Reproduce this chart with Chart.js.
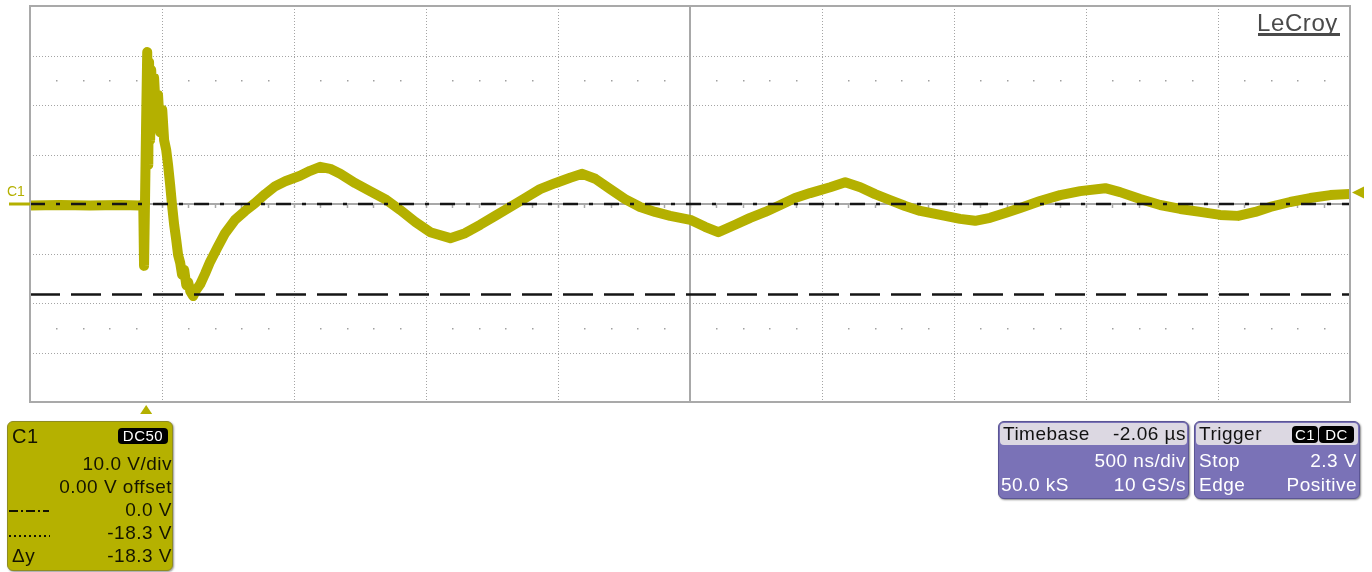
<!DOCTYPE html>
<html>
<head>
<meta charset="utf-8">
<script src="https://cdn.jsdelivr.net/npm/chart.js@4.4.1/dist/chart.umd.min.js"></script>
<style>
  html,body{margin:0;padding:0;background:#fff;}
  #wrap{position:relative;width:1372px;height:572px;overflow:hidden;font-family:"Liberation Sans",Arial,sans-serif;}
  #c{position:absolute;left:0;top:0;}
  .abs{position:absolute;white-space:nowrap;}
  .panel{position:absolute;box-sizing:border-box;border-radius:6px;}
  .t19{font-size:19px;line-height:22px;letter-spacing:0.5px;}
  .badge{position:absolute;background:#000;color:#fff;border-radius:4px;font-size:15px;line-height:16px;text-align:center;letter-spacing:0.5px;}
</style>
</head>
<body>
<div id="wrap">
  <canvas id="c" width="1372" height="572"></canvas>

  <!-- LeCroy logo -->
  <div class="abs" style="left:1257px;top:10px;font-size:24px;line-height:26px;color:#4a4a4a;letter-spacing:0.6px;">LeCroy</div>
  <div class="abs" style="left:1258px;top:33px;width:82px;height:3px;background:#4a4a4a;"></div>

  <!-- channel label -->
  <div class="abs" style="left:7px;top:184px;font-size:14px;line-height:15px;color:#b4b000;">C1</div>

  <!-- C1 panel -->
  <div class="panel" style="left:7px;top:421px;width:166px;height:150px;background:#b5b100;border:1px solid #8f8c20;box-shadow:1px 1px 2px #999;"></div>
  <div class="abs t19" style="left:12px;top:425px;color:#141400;font-size:20px;">C1</div>
  <div class="badge" style="left:118px;top:428px;width:50px;height:16px;">DC50</div>
  <div class="abs t19" style="right:1200px;top:453px;color:#141400;">10.0 V/div</div>
  <div class="abs t19" style="right:1200px;top:476px;color:#141400;">0.00 V offset</div>
  <div class="abs" style="left:9px;top:510px;width:40px;height:2px;background:repeating-linear-gradient(90deg,#141400 0 9px,transparent 9px 12px,#141400 12px 14px,transparent 14px 17px);"></div>
  <div class="abs t19" style="right:1200px;top:499px;color:#141400;">0.0 V</div>
  <div class="abs" style="left:9px;top:535px;width:41px;height:2px;background:repeating-linear-gradient(90deg,#141400 0 2px,transparent 2px 5px);"></div>
  <div class="abs t19" style="right:1200px;top:522px;color:#141400;">-18.3 V</div>
  <div class="abs t19" style="left:12px;top:545px;color:#141400;">Δy</div>
  <div class="abs t19" style="right:1200px;top:545px;color:#141400;">-18.3 V</div>

  <!-- Timebase panel -->
  <div class="panel" style="left:998px;top:421px;width:191px;height:78px;background:#7a72b7;border:1px solid #5b5594;box-shadow:1px 1px 2px #888;"></div>
  <div class="panel" style="left:1000px;top:423px;width:187px;height:22px;background:#dcd8e2;border-radius:4px;"></div>
  <div class="abs t19" style="left:1003px;top:423px;color:#111;">Timebase</div>
  <div class="abs t19" style="right:186px;top:423px;color:#111;">-2.06 µs</div>
  <div class="abs t19" style="right:186px;top:450px;color:#fff;">500 ns/div</div>
  <div class="abs t19" style="left:1001px;top:474px;color:#fff;">50.0 kS</div>
  <div class="abs t19" style="right:186px;top:474px;color:#fff;">10 GS/s</div>

  <!-- Trigger panel -->
  <div class="panel" style="left:1194px;top:421px;width:166px;height:78px;background:#7a72b7;border:1px solid #5b5594;box-shadow:1px 1px 2px #888;"></div>
  <div class="panel" style="left:1196px;top:423px;width:162px;height:22px;background:#dcd8e2;border-radius:4px;"></div>
  <div class="abs t19" style="left:1199px;top:423px;color:#111;">Trigger</div>
  <div class="badge" style="left:1292px;top:426px;width:26px;height:17px;line-height:17px;">C1</div>
  <div class="badge" style="left:1319px;top:426px;width:35px;height:17px;line-height:17px;">DC</div>
  <div class="abs t19" style="left:1199px;top:450px;color:#fff;">Stop</div>
  <div class="abs t19" style="right:15px;top:450px;color:#fff;">2.3 V</div>
  <div class="abs t19" style="left:1199px;top:474px;color:#fff;">Edge</div>
  <div class="abs t19" style="right:15px;top:474px;color:#fff;">Positive</div>
</div>

<script>
// ---- data (time in ns relative to trigger, voltage in V) ----
const timeNs = [
  -440, -326, -212, -98, -23, -11, -8, -4, 0, 4, 8, 11, 15, 19, 27, 30, 38, 45, 53, 61, 68, 76, 83, 91, 98,
  106, 114, 121, 129, 136, 144, 152, 159, 167, 178, 189, 205, 223, 242, 269, 299, 337, 375, 413, 451, 489,
  527, 583, 621, 659, 697, 735, 792, 848, 905, 962, 1019, 1076, 1152, 1208, 1265, 1322, 1379, 1436, 1492,
  1549, 1606, 1652, 1701, 1758, 1814, 1871, 1928, 1985, 2061, 2117, 2167, 2231, 2288, 2345, 2402, 2458,
  2515, 2591, 2648, 2705, 2761, 2818, 2875, 2932, 3008, 3083, 3140, 3197, 3254, 3311, 3386, 3462, 3538,
  3633, 3689, 3765, 3841, 3917, 3992, 4068, 4136, 4201, 4258, 4333, 4409, 4485, 4560
];
const voltsC1 = [
  -0.3, -0.2, -0.3, -0.2, -0.3, 0.0, -12.5, 1.8, 17.0, 30.7, 7.9, 28.7, 12.9, 27.1, 18.0, 25.5, 17.4, 22.0, 14.5, 19.0, 12.9, 10.9, 7.9, 3.8, -0.2,
  -4.2, -7.3, -10.3, -11.9, -14.3, -13.3, -16.4, -15.8, -17.6, -18.6, -17.4, -16.2, -14.1, -11.7, -8.9, -5.9, -3.2, -1.4, 0.2, 2.0, 3.6,
  4.6, 5.7, 6.7, 7.5, 7.1, 6.1, 4.2, 2.6, 1.0, -1.2, -3.6, -5.7, -6.9, -5.9, -4.2, -2.4, -0.6, 1.2, 3.0,
  4.2, 5.3, 6.1, 5.1, 3.0, 1.0, -0.6, -1.6, -2.4, -3.2, -4.6, -5.7, -4.2, -2.8, -1.6, -0.2, 1.2,
  2.2, 3.4, 4.4, 3.4, 2.0, 0.8, -0.4, -1.4, -2.2, -3.0, -3.4, -2.8, -1.8, -0.8, 0.6, 1.8, 2.6,
  3.2, 2.4, 1.0, -0.2, -1.0, -1.6, -2.2, -2.4, -1.6, -0.6, 0.4, 1.2, 1.8, 2.0
];
const cursorLevels = [0.0, -18.3];        // V (dash-dot, dashed)
const triggerLevel = 2.3;                  // V
const triggerTime = 0;                     // ns
const xRange = [-440, 4560];               // 500 ns/div, 10 div
const yRange = [-40, 40];                  // 10 V/div, 8 div
const xDivTicks = [60, 560, 1060, 1560, 2060, 2560, 3060, 3560, 4060];
const yDivTicks = [-30, -20, -10, 0, 10, 20, 30];
const xCenter = 2060, yCenter = 0;
const dotRowLevels = [25, -25];

const traceColor = '#b4b000';

const scopePlugin = {
  id: 'scope',
  beforeDatasetsDraw(chart) {
    const {ctx, chartArea: a, scales: {x, y}} = chart;
    ctx.save();
    ctx.strokeStyle = '#a4a4a4';
    ctx.lineWidth = 1;
    ctx.setLineDash([1, 2]);
    xDivTicks.forEach(t => {
      if (t === xCenter) return;
      const px = Math.round(x.getPixelForValue(t)) + 0.5;
      ctx.beginPath(); ctx.moveTo(px, a.top); ctx.lineTo(px, a.bottom); ctx.stroke();
    });
    yDivTicks.forEach(v => {
      if (v === yCenter) return;
      const py = Math.round(y.getPixelForValue(v)) + 0.5;
      ctx.beginPath(); ctx.moveTo(a.left, py); ctx.lineTo(a.right, py); ctx.stroke();
    });
    ctx.setLineDash([]);
    ctx.fillStyle = '#a0a0a0';
    dotRowLevels.forEach(v => {
      const py = Math.round(y.getPixelForValue(v));
      for (let t = xRange[0] + 100; t < xRange[1]; t += 100) {
        if (((t - xRange[0]) % 500) === 0) continue;
        const px = Math.round(x.getPixelForValue(t));
        ctx.fillRect(px, py, 1.5, 1.5);
      }
    });
    ctx.strokeStyle = '#a8a8a8';
    ctx.lineWidth = 2;
    const cx = Math.round(x.getPixelForValue(xCenter));
    const cy = Math.round(y.getPixelForValue(yCenter));
    ctx.beginPath(); ctx.moveTo(cx, a.top); ctx.lineTo(cx, a.bottom); ctx.stroke();
    ctx.beginPath(); ctx.moveTo(a.left, cy); ctx.lineTo(a.right, cy); ctx.stroke();
    ctx.lineWidth = 1.5;
    for (let t = xRange[0] + 100; t < xRange[1]; t += 100) {
      const px = Math.round(x.getPixelForValue(t)) + 0.5;
      ctx.beginPath(); ctx.moveTo(px, cy); ctx.lineTo(px, cy + 4); ctx.stroke();
    }
    ctx.restore();
  },
  afterDatasetsDraw(chart) {
    const {ctx, chartArea: a, scales: {x, y}} = chart;
    ctx.save();
    ctx.strokeStyle = '#a9a9a9';
    ctx.lineWidth = 2;
    ctx.strokeRect(a.left, a.top, a.right - a.left, a.bottom - a.top);
    const gy = y.getPixelForValue(0);
    ctx.strokeStyle = traceColor;
    ctx.lineWidth = 3;
    ctx.beginPath(); ctx.moveTo(9, gy); ctx.lineTo(a.left, gy); ctx.stroke();
    const ty = y.getPixelForValue(triggerLevel);
    ctx.fillStyle = traceColor;
    ctx.beginPath(); ctx.moveTo(a.right + 2, ty); ctx.lineTo(a.right + 14, ty - 6); ctx.lineTo(a.right + 14, ty + 6); ctx.closePath(); ctx.fill();
    const tx = x.getPixelForValue(triggerTime);
    ctx.beginPath(); ctx.moveTo(tx, a.bottom + 3); ctx.lineTo(tx - 6, a.bottom + 12); ctx.lineTo(tx + 6, a.bottom + 12); ctx.closePath(); ctx.fill();
    ctx.restore();
  }
};

const traceData = timeNs.map((t, i) => ({x: t, y: voltsC1[i]}));
const cursorData = cursorLevels.map(v => [{x: xRange[0], y: v}, {x: xRange[1], y: v}]);

new Chart(document.getElementById('c'), {
  type: 'scatter',
  data: {
    datasets: [
      {data: cursorData[0], showLine: true, borderColor: '#151515', borderWidth: 2.5, borderDash: [15, 11, 4, 11], pointRadius: 0, order: 0},
      {data: cursorData[1], showLine: true, borderColor: '#151515', borderWidth: 2.5, borderDash: [30, 11], pointRadius: 0, order: 0},
      {data: traceData, showLine: true, borderColor: traceColor, borderWidth: 10, borderJoinStyle: 'round', borderCapStyle: 'round', pointRadius: 0, tension: 0, order: 1}
    ]
  },
  options: {
    responsive: false,
    animation: false,
    devicePixelRatio: 1,
    layout: {padding: {left: 30, right: 22, top: 6, bottom: 170}},
    plugins: {legend: {display: false}, tooltip: {enabled: false}},
    scales: {
      x: {type: 'linear', min: xRange[0], max: xRange[1], display: false},
      y: {type: 'linear', min: yRange[0], max: yRange[1], display: false}
    }
  },
  plugins: [scopePlugin]
});
</script>
</body>
</html>
